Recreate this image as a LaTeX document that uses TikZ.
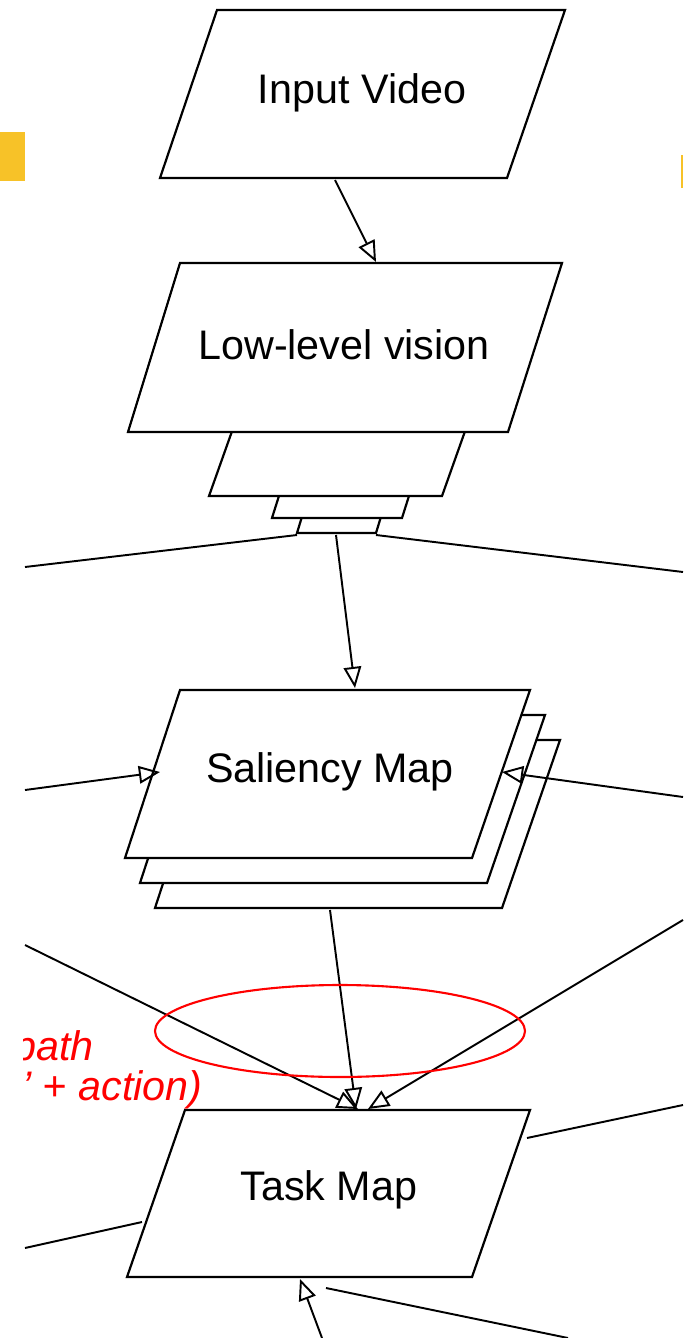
\documentclass[tikz,border=0pt]{standalone}
\usepackage{fontspec}
\setmainfont{Liberation Sans}
\usetikzlibrary{arrows.meta}

\definecolor{slidegold}{RGB}{247,194,40}

\tikzset{
  sheet/.style={draw,fill=white,line width=1.25pt,line join=miter},
  flow/.style={-{Triangle[open,length=12pt,width=10pt]},line width=1.1pt},
  link/.style={line width=1.1pt},
  boxtext/.style={inner sep=0pt,font=\fontsize{23.5}{28}\selectfont},
  note/.style={inner sep=0pt,text=red,font=\fontsize{23.5}{28}\selectfont\itshape}
}

\begin{document}
\begin{tikzpicture}[x=0.02cm,y=-0.02cm]
   \useasboundingbox (0,0) rectangle (683,1338);

   % slide background bits
   \fill [slidegold] (0,132) rectangle (25,181);
   \fill [slidegold] (681,155) rectangle (683,188);

   % input video
   \draw [sheet] (217,10) -- (565,10) -- (507,178) -- (160,178) -- cycle;
   \node [boxtext] (video) at (362,93) {Input Video};

   % low-level vision, with its pyramid
   \draw [sheet] (304,510) -- (383,510) -- (376,533) -- (297,533) -- cycle;
   \draw [sheet] (284,480) -- (414,480) -- (402,518) -- (272,518) -- cycle;
   \draw [sheet] (236,420) -- (469,420) -- (442,496) -- (209,496) -- cycle;
   \draw [sheet] (180,263) -- (562,263) -- (508,432) -- (128,432) -- cycle;
   \node [boxtext] (lowvis) at (344,345) {Low-level vision};

   % saliency map stack
   \draw [sheet] (210,740) -- (560,740) -- (502,908) -- (155,908) -- cycle;
   \draw [sheet] (195,715) -- (545,715) -- (487,883) -- (140,883) -- cycle;
   \draw [sheet] (180,690) -- (530,690) -- (472,858) -- (125,858) -- cycle;
   \node [boxtext] (sal) at (330,772) {Saliency Map};

   % task map
   \draw [sheet] (185,1110) -- (530,1110) -- (472,1277) -- (127,1277) -- cycle;
   \node [boxtext] (task) at (329,1190) {Task Map};

   % ends of the connectors
   \coordinate (video-out) at (335,180);
   \coordinate (lowvis-in) at (376,262);
   \coordinate (pyr-l) at (297,535);
   \coordinate (pyr-c) at (336,535);
   \coordinate (pyr-r) at (376,535);
   \coordinate (sal-top) at (355,688);
   \coordinate (sal-l) at (160,772);
   \coordinate (sal-r) at (502,772);
   \coordinate (sal-out) at (330,910);
   \coordinate (task-top) at (356,1109);
   \coordinate (task-tl) at (358,1109);
   \coordinate (task-tr) at (368,1109);
   \coordinate (task-l) at (142,1222);
   \coordinate (task-r) at (527,1138);
   \coordinate (task-bot) at (300,1279);
   \coordinate (task-br) at (326,1288);
   \coordinate (w1) at (25,567);
   \coordinate (e1) at (683,572);
   \coordinate (w2) at (25,790);
   \coordinate (e2) at (683,797);
   \coordinate (w3) at (25,945);
   \coordinate (e3) at (683,920);
   \coordinate (w4) at (25,1248);
   \coordinate (e4) at (683,1105);
   \coordinate (s1) at (322,1338);
   \coordinate (s2) at (568,1338);

   % connectors
   \draw [flow] (video-out) -- (lowvis-in);
   \draw [link] (w1) -- (pyr-l);
   \draw [link] (pyr-r) -- (e1);
   \draw [flow] (pyr-c) -- (sal-top);
   \draw [flow] (w2) -- (sal-l);
   \draw [flow] (e2) -- (sal-r);
   \draw [flow] (sal-out) -- (task-top);
   \draw [flow] (w3) -- (task-tl);
   \draw [flow] (e3) -- (task-tr);
   \draw [link] (w4) -- (task-l);
   \draw [link] (e4) -- (task-r);
   \draw [flow] (s1) -- (task-bot);
   \draw [link] (s2) -- (task-br);

   % red ring and its note
   \draw [red,line width=1.2pt] (340,1031) ellipse [x radius=185,y radius=46];
   \begin{scope}
      \clip (23,0) rectangle (683,1338);
      \node [note,anchor=base west] (pathnote) at (13,1060) {path};
      \node [note,anchor=base west] (actnote) at (22,1100) {\symbol{39} + action)};
   \end{scope}
\end{tikzpicture}
\end{document}
